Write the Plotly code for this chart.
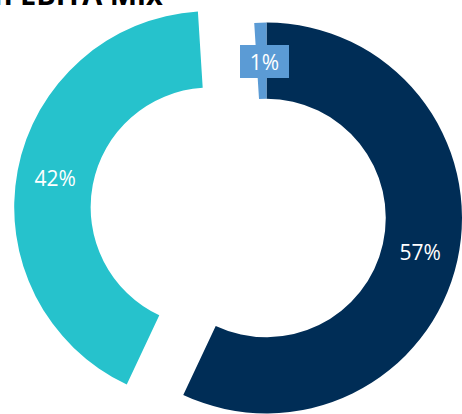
import math
import plotly.graph_objects as go

# ---- data ----
categories = ["Segment A", "Segment B", "Segment C"]
values = [57, 42, 1]
colors = ["#002D56", "#26C2CC", "#5B9BD5"]
title_text = "Region EBITA Mix"

# ---- layout constants (pixels) ----
W, H = 462, 414
R = 196
CX, CY = 267, 218
HOLE = 0.61
PULL = 0.295          # pull of the exploded slice, fraction of radius
pull_idx = 1
label_idx = 2         # small slice labelled with a boxed annotation
FONT = "Open Sans"
TRANSPARENT = "rgba(0,0,0,0)"

total = sum(values)


def clamp(v):
    return max(0.0, min(1.0, v))


def domain(cx, cy):
    return dict(x=[clamp((cx - R) / W), clamp((cx + R) / W)],
                y=[clamp(1 - (cy + R) / H), clamp(1 - (cy - R) / H)])


def mid_angle(i):
    frac = (sum(values[:i]) + values[i] / 2) / total
    return 2 * math.pi * frac


# offset of exploded slice
th = mid_angle(pull_idx)
dx = PULL * R * math.sin(th)
dy = -PULL * R * math.cos(th)

n = len(values)
colsA = [c if i != pull_idx else TRANSPARENT for i, c in enumerate(colors)]
colsB = [c if i == pull_idx else TRANSPARENT for i, c in enumerate(colors)]
posA = ["inside" if (i != pull_idx and i != label_idx) else "none" for i in range(n)]
posB = ["inside" if i == pull_idx else "none" for i in range(n)]

common = dict(labels=categories, values=values, hole=HOLE, sort=False,
              direction="clockwise", rotation=0, showlegend=False,
              hoverinfo="skip", texttemplate="%{percent:.0%}",
              insidetextorientation="horizontal",
              insidetextfont=dict(family=FONT, size=21, color="white"))

fig = go.Figure()
fig.add_trace(go.Pie(domain=domain(CX, CY),
                     marker=dict(colors=colsA, line=dict(width=0)),
                     textposition=posA, **common))
fig.add_trace(go.Pie(domain=domain(CX + dx, CY + dy),
                     marker=dict(colors=colsB, line=dict(width=0)),
                     textposition=posB, **common))

# boxed label for the small slice
thl = mid_angle(label_idx)
rm = R * (1 + HOLE) / 2
lx = CX + rm * math.sin(thl) + 2
ly = CY - rm * math.cos(thl) + 1
fig.add_annotation(x=lx / W, y=1 - ly / H, xref="paper", yref="paper",
                   text=f"{values[label_idx] / total:.0%}", showarrow=False,
                   font=dict(family=FONT, size=21, color="white"),
                   bgcolor=colors[label_idx], width=45, height=29,
                   borderpad=2, borderwidth=0,
                   xanchor="center", yanchor="middle")

# title (partly outside the page at the top)
fig.add_annotation(x=165 / W, y=1 - 15 / H, xref="paper", yref="paper",
                   text=f"<b>{title_text}</b>", showarrow=False,
                   font=dict(family=FONT, size=29, color="black"),
                   xanchor="right", yanchor="bottom")

fig.update_layout(width=W, height=H, margin=dict(l=0, r=0, t=0, b=0),
                  paper_bgcolor="white", plot_bgcolor="white")

fig.write_html("out.html")
